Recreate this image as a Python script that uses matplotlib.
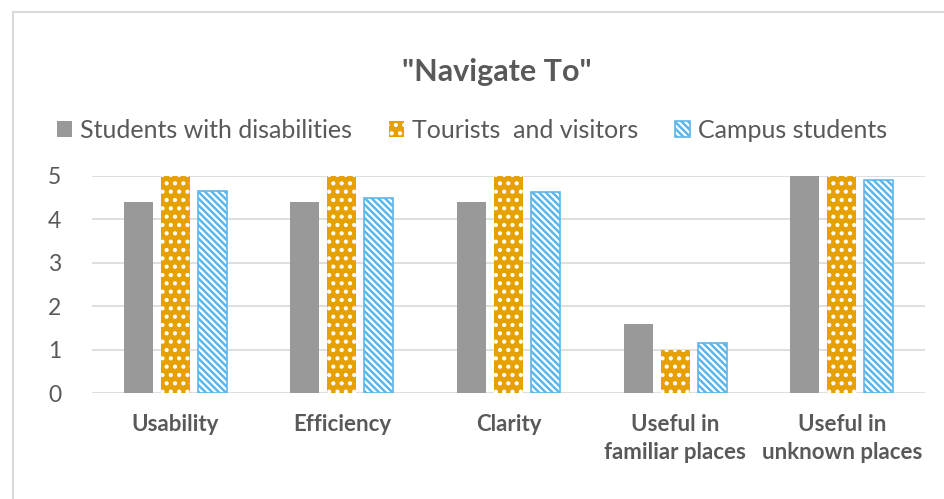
import numpy as np
import matplotlib
matplotlib.use('Agg')
import matplotlib.pyplot as plt
from matplotlib.lines import Line2D

# data
categories = ['Usability', 'Efficiency', 'Clarity',
              'Useful in\nfamiliar places', 'Useful in\nunknown places']
series = ['Students with disabilities', 'Tourists  and visitors', 'Campus students']
disabled = [4.4, 4.4, 4.4, 1.6, 5.0]
tourists = [5.0, 5.0, 5.0, 1.0, 5.0]
campus = [4.65, 4.5, 4.63, 1.15, 4.9]
yticks = [0, 1, 2, 3, 4, 5]

plt.rcParams['font.family'] = ['Lato', 'DejaVu Sans']
plt.rcParams['hatch.linewidth'] = 1.8

W, H = 945, 499
fig = plt.figure(figsize=(W/100, H/100), dpi=100)
ax = fig.add_axes([92/W, 1-393/H, (925-92)/W, (393-176)/H])

x = np.arange(len(categories))
bw = 0.175
off = 0.222
txt = '#595959'

ax.bar(x-off, disabled, bw, color='#999999', label=series[0], zorder=3)
ax.bar(x, tourists, bw, facecolor='#E6A000', edgecolor='white', hatch='..',
       linewidth=0, label=series[1], zorder=3)
ax.bar(x+off, campus, bw, facecolor='white', edgecolor='#5DB6EA', hatch='\\\\\\\\\\',
       linewidth=1.2, label=series[2], zorder=3)

ax.set_xlim(-0.5, 4.5)
ax.set_ylim(0, 5)
ax.set_yticks(yticks)
ax.set_xticks(x)
ax.set_xticklabels(categories, fontsize=16, fontweight='bold', color=txt,
                   linespacing=1.4)
ax.tick_params(axis='y', length=0, pad=22, labelsize=16.5, labelcolor=txt)
ax.tick_params(axis='x', length=0, pad=15)
ax.grid(axis='y', color='#D9D9D9', linewidth=1.2, zorder=0)
for s in ax.spines.values():
    s.set_visible(False)

fig.text(497/W, 1-72/H, '"Navigate To"', ha='center', va='center',
         fontsize=22, fontweight='bold', color=txt)

handles, labels = ax.get_legend_handles_labels()
fig.legend(handles, labels, loc='center', bbox_to_anchor=(472/W, 1-130/H),
           ncol=3, frameon=False, fontsize=18, labelcolor=txt,
           handlelength=0.6, handleheight=0.6, handletextpad=0.3,
           columnspacing=1.5)

# chart border (top and left edges visible)
fig.add_artist(Line2D([13.5/W, 1], [1-11.5/H, 1-11.5/H], color='#D9D9D9', lw=1.5))
fig.add_artist(Line2D([13.5/W, 13.5/W], [0, 1-11.5/H], color='#D9D9D9', lw=1.5))

fig.savefig('out.png', dpi=100, facecolor='white')
